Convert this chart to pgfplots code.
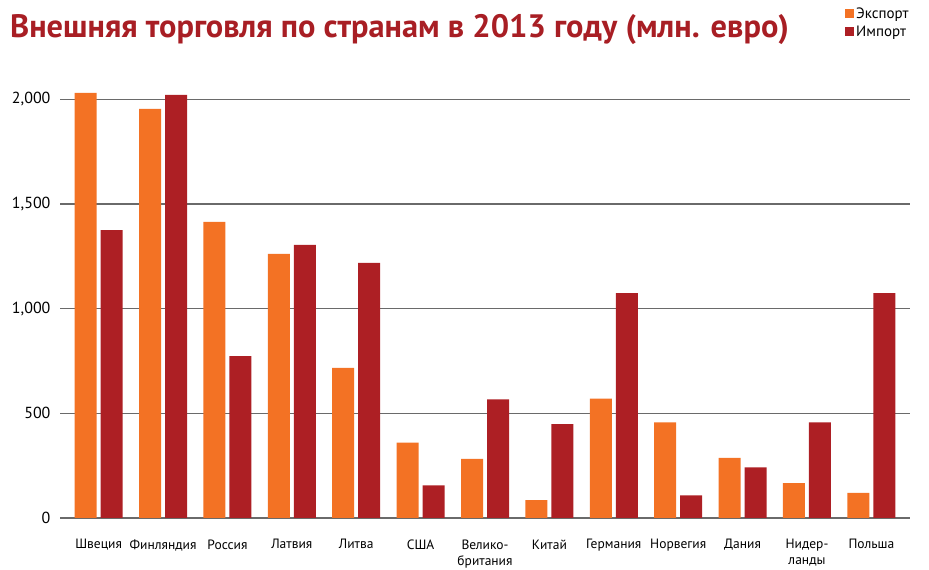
\documentclass[border=0pt]{standalone}
\usepackage{pgfplots}
\pgfplotsset{compat=1.18}
\usepackage{fontspec}
\setmainfont{PT Sans}
\definecolor{exp}{HTML}{F37224}
\definecolor{imp}{HTML}{AD1F24}
\definecolor{ttl}{HTML}{A81E24}
\definecolor{grd}{HTML}{6A6A6A}
\begin{document}
\begin{tikzpicture}[x=1pt,y=1pt]
\useasboundingbox (0,0) rectangle (929,570);
\node[anchor=base west, text=ttl, font=\fontsize{32.4}{36}\selectfont\bfseries, inner sep=0pt] at (10,532) {Внешняя торговля по странам в 2013 году (млн. евро)};
\begin{axis}[
  at={(60pt,52pt)}, anchor=south west, scale only axis,
  width=850pt, height=429pt,
  xmin=-0.6, xmax=12.6, ymin=0, ymax=2050,
  axis line style={draw=none},
  major tick length=0pt, tick style={draw=none},
  ytick={0,500,1000,1500,2000},
  yticklabels={0,500,{1,000},{1,500},{2,000}},
  ymajorgrids, grid style={grd, line width=1.4pt},
  xtick={0,...,12},
  xticklabels={Швеция,Финляндия,Россия,Латвия,Литва,США,{Велико-\\британия},Китай,Германия,Норвегия,Дания,{Нидер-\\ланды},Польша},
  xticklabel style={align=center, font=\fontsize{13.5}{16}\selectfont, anchor=north, yshift=-18pt},
  yticklabel style={anchor=east, font=\fontsize{16}{18}\selectfont, xshift=-6pt},
  ybar, bar width=22pt,
  legend style={at={(rel axis cs:0.9235,1.195)}, anchor=north west, draw=none, fill=none,
    font=\fontsize{15}{17}\selectfont, row sep=2pt, inner sep=0pt,
    /tikz/every even column/.append style={column sep=0pt}},
  legend cell align=left,
  legend image code/.code={\fill[#1] (0pt,-4.5pt) rectangle (9pt,4.5pt);},
]
\addplot[fill=exp, draw=none, bar shift=-13pt] coordinates {
(0,2031) (1,1955) (2,1415) (3,1262) (4,717) (5,360) (6,283) (7,86) (8,570) (9,457) (10,287) (11,167) (12,120)};
\addplot[fill=imp, draw=none, bar shift=13pt] coordinates {
(0,1376) (1,2022) (2,774) (3,1305) (4,1219) (5,156) (6,567) (7,449) (8,1075) (9,108) (10,242) (11,457) (12,1075)};
\legend{Экспорт,Импорт}
\end{axis}
\end{tikzpicture}
\end{document}
